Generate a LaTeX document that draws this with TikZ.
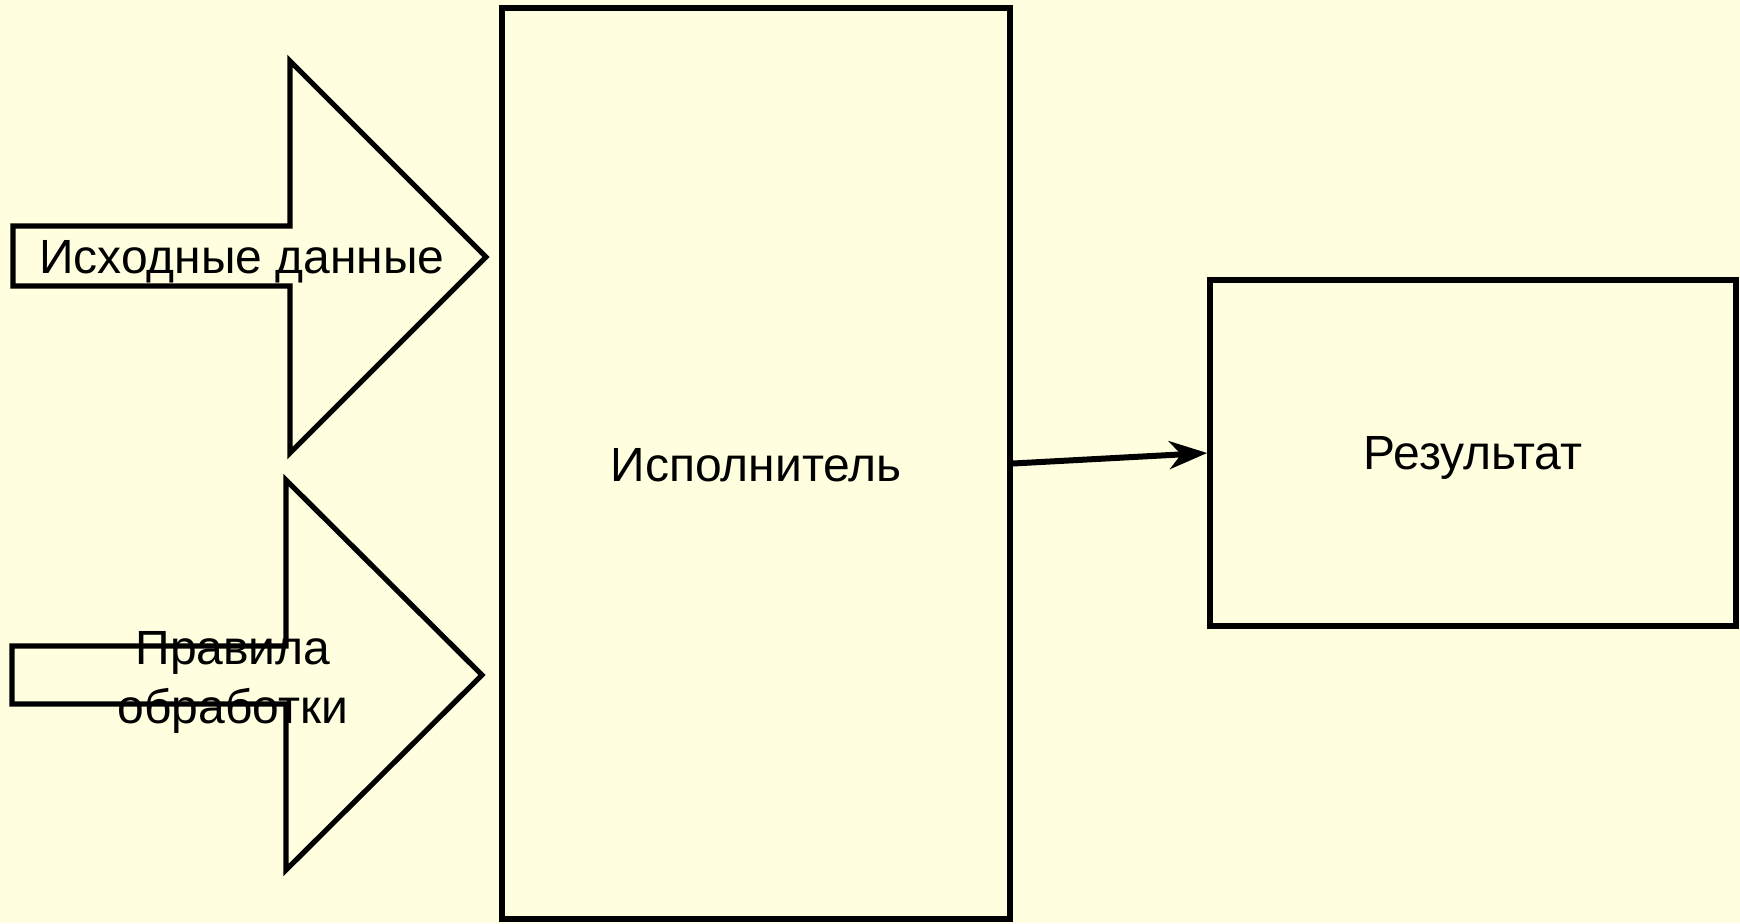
\documentclass[tikz,border=0pt]{standalone}
\usepackage{fontspec}
\setmainfont{Liberation Sans}
\usetikzlibrary{arrows.meta}
\definecolor{bg}{HTML}{FFFFE0}
\begin{document}
\begin{tikzpicture}[x=0.5pt,y=-0.5pt,
  box/.style={draw=black, line width=2.8pt, inner sep=0pt},
  blockarrow/.style={draw=black, line width=2.6pt, line join=miter},
  lbl/.style={font=\fontsize{24}{29.5}\selectfont, align=center, inner sep=0pt}]
\fill[bg] (0,0) rectangle (1740,923);
\useasboundingbox (0,0) rectangle (1740,923);
\draw[blockarrow] (13,226) -- (290,226) -- (290,61) -- (486,257) -- (290,453) -- (290,286) -- (13,286) -- cycle;
\node[lbl] (in1) at (242,262) {Исходные данные};
\draw[blockarrow] (12,646) -- (286,646) -- (286,480) -- (482,675) -- (286,870) -- (286,704) -- (12,704) -- cycle;
\node[lbl] (in2) at (233,682) {Правила\\обработки};
\node[box, minimum width=254pt, minimum height=455.5pt] (exec) at (756,463.5) {};
\node[box, minimum width=263pt, minimum height=173pt] (res) at (1473,453) {};
\node[lbl] (exec-t) at ([yshift=-0.8pt]exec.center) {Исполнитель};
\node[lbl] (res-t) at ([yshift=-2.7pt]res.center) {Результат};
\draw[line width=3pt, -{Stealth[length=19pt,width=14pt,inset=6pt]}] (exec.east) -- (res.west);
\end{tikzpicture}
\end{document}
